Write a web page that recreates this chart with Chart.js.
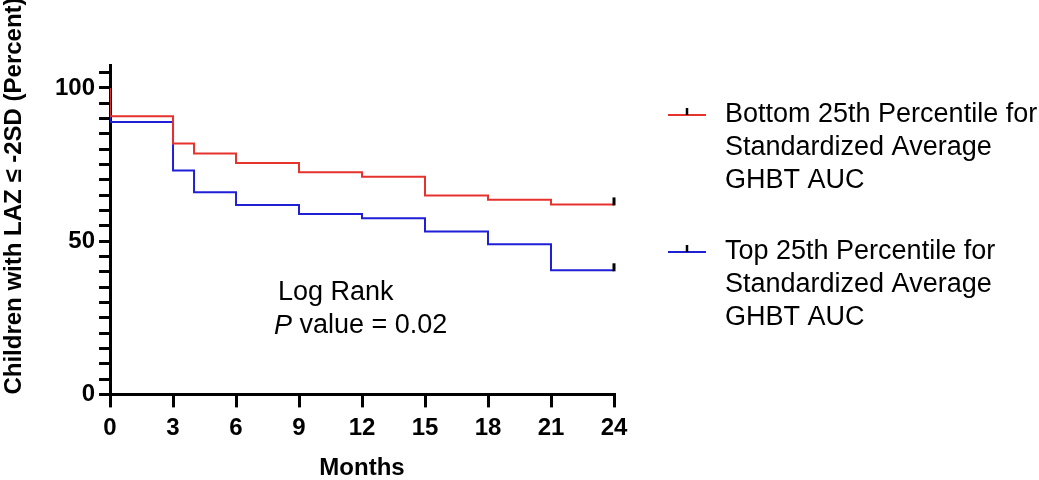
<!DOCTYPE html>
<html>
<head>
<meta charset="utf-8">
<script src="https://cdn.jsdelivr.net/npm/chart.js@4.4.1/dist/chart.umd.min.js"></script>
<style>
  html, body { margin: 0; padding: 0; background: #fff; overflow: hidden; }
</style>
</head>
<body>
<canvas id="kmChart" width="1039" height="480" style="width:1039px;height:480px;display:block"></canvas>
<script>
// Kaplan-Meier steps (months, percent)
const months = [0, 0, 3, 4, 6, 9, 12, 15, 18, 21, 24];
const bottomPct = [100, 90.8, 81.9, 78.6, 75.5, 72.5, 71.0, 64.9, 63.5, 62.0, 62.0];
const topPct = [100, 88.9, 73.1, 66.0, 61.8, 58.9, 57.5, 53.2, 49.0, 40.5, 40.5];
const xTicks = [0, 3, 6, 9, 12, 15, 18, 21, 24];
const yTicks = [0, 5, 10, 15, 20, 25, 30, 35, 40, 45, 50, 55, 60, 65, 70, 75, 80, 85, 90, 95, 100, 105];
const yLabelled = [0, 50, 100];

const seriesNames = [
  ['Bottom 25th Percentile for', 'Standardized Average', 'GHBT AUC'],
  ['Top 25th Percentile for', 'Standardized Average', 'GHBT AUC']
];
const yTitle = 'Children with LAZ \u2264 -2SD (Percent)';
const RED = '#e5322d';
const BLUE = '#1f1fd6';
const FONT = "'Liberation Sans', Arial, Helvetica, sans-serif";

const toPoints = vals => months.map((m, i) => ({ x: m, y: vals[i] }));

// censor ticks at the last point + y title + legend + log-rank note
const extras = {
  id: 'extras',
  afterDatasetsDraw(chart) {
    const ctx = chart.ctx;
    ctx.save();
    chart.data.datasets.forEach((ds, i) => {
      const meta = chart.getDatasetMeta(i);
      const pt = meta.data[meta.data.length - 1];
      ctx.strokeStyle = '#000';
      ctx.lineWidth = 3;
      ctx.beginPath();
      ctx.moveTo(pt.x, pt.y + 1);
      ctx.lineTo(pt.x, pt.y - 7);
      ctx.stroke();
    });

    // y title, sits higher than the plot centre in the original
    ctx.save();
    ctx.translate(14, 196);
    ctx.rotate(-Math.PI / 2);
    ctx.font = 'bold 24px ' + FONT;
    ctx.fillStyle = '#000';
    ctx.textAlign = 'center';
    ctx.textBaseline = 'middle';
    ctx.fillText(yTitle, 0, 0);
    ctx.restore();

    // legend
    const colors = [RED, BLUE];
    const groupTop = [115, 252];
    ctx.font = '27px ' + FONT;
    ctx.textBaseline = 'middle';
    ctx.textAlign = 'left';
    seriesNames.forEach((lines, g) => {
      const y0 = groupTop[g];
      ctx.strokeStyle = colors[g];
      ctx.lineWidth = 2;
      ctx.beginPath();
      ctx.moveTo(668, y0);
      ctx.lineTo(706, y0);
      ctx.stroke();
      ctx.strokeStyle = '#000';
      ctx.lineWidth = 2.5;
      ctx.beginPath();
      ctx.moveTo(687, y0);
      ctx.lineTo(687, y0 - 7);
      ctx.stroke();
      ctx.fillStyle = '#000';
      lines.forEach((t, k) => ctx.fillText(t, 725, y0 + k * 33));
    });

    // log rank note
    ctx.fillText('Log Rank', 278, 293);
    ctx.font = 'italic 27px ' + FONT;
    ctx.fillText('P', 274, 326);
    const pw = ctx.measureText('P ').width;
    ctx.font = '27px ' + FONT;
    ctx.fillText('value = 0.02', 274 + pw, 326);
    ctx.restore();
  }
};

new Chart(document.getElementById('kmChart'), {
  type: 'line',
  data: {
    datasets: [
      {
        label: seriesNames[0].join(' '),
        data: toPoints(bottomPct),
        borderColor: RED,
        borderWidth: 2,
        stepped: true,
        pointRadius: 0,
        fill: false
      },
      {
        label: seriesNames[1].join(' '),
        data: toPoints(topPct),
        borderColor: BLUE,
        borderWidth: 2,
        stepped: true,
        pointRadius: 0,
        fill: false
      }
    ]
  },
  options: {
    responsive: false,
    devicePixelRatio: 1,
    animation: false,
    layout: { padding: { left: 51, right: 425, top: 65, bottom: 0 } },
    scales: {
      x: {
        type: 'linear',
        min: 0,
        max: 24,
        afterBuildTicks: axis => { axis.ticks = xTicks.map(v => ({ value: v })); },
        ticks: { color: '#000', font: { family: FONT, size: 24, weight: 'bold' }, padding: 7, autoSkip: false, maxRotation: 0 },
        grid: { drawOnChartArea: false, color: '#000', lineWidth: 3, tickLength: 13 },
        border: { color: '#000', width: 3 },
        title: {
          display: true,
          text: 'Months',
          color: '#000',
          font: { family: FONT, size: 24, weight: 'bold' },
          padding: { top: 4, bottom: -3 }
        }
      },
      y: {
        min: 0,
        max: 107.5,
        afterBuildTicks: axis => { axis.ticks = yTicks.map(v => ({ value: v })); },
        ticks: {
          color: '#000',
          font: { family: FONT, size: 24, weight: 'bold' },
          padding: 4,
          autoSkip: false,
          callback: v => (yLabelled.includes(v) ? v : '')
        },
        grid: { drawOnChartArea: false, color: '#000', lineWidth: 3, tickLength: 11 },
        border: { color: '#000', width: 3 }
      }
    },
    plugins: {
      legend: { display: false },
      tooltip: { enabled: false }
    }
  },
  plugins: [extras]
});
</script>
</body>
</html>
